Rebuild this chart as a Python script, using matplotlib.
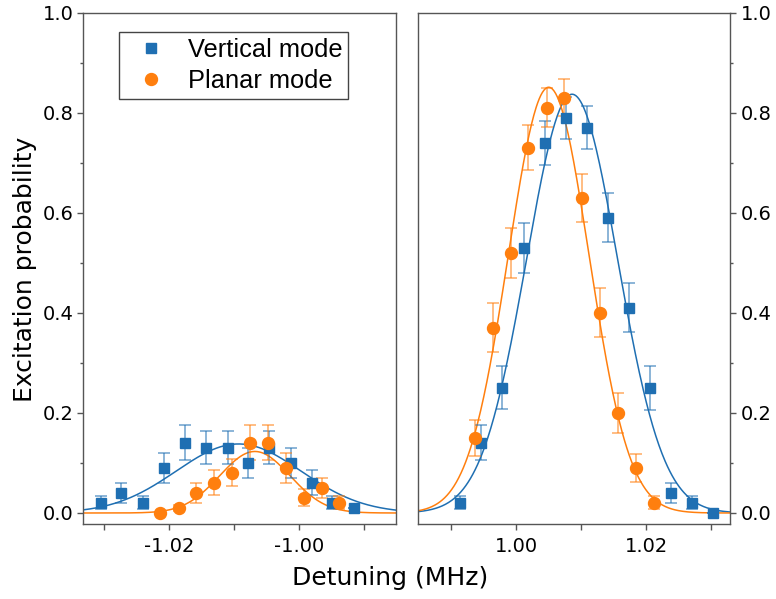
import numpy as np
import matplotlib
matplotlib.use("Agg")
import matplotlib.pyplot as plt
from matplotlib.ticker import FixedLocator, FormatStrFormatter

plt.rcParams['axes.unicode_minus'] = False
plt.rcParams['font.family'] = 'DejaVu Sans'

BLUE = '#1f6fb2'
ORANGE = '#ff7f0e'
GREY = '#555555'

# --- left panel (red sideband, around -1 MHz)
vl_x = [-1.0305, -1.0273, -1.0240, -1.0208, -1.0175, -1.0143, -1.0110,
        -1.0078, -1.0046, -1.0013, -0.9980, -0.9949, -0.9916]
vl_y = [0.02, 0.04, 0.02, 0.09, 0.14, 0.13, 0.13, 0.10, 0.13, 0.10, 0.06, 0.02, 0.01]
vl_e = [0.013, 0.02, 0.013, 0.03, 0.035, 0.033, 0.033, 0.03, 0.033, 0.03, 0.025, 0.013, 0.0]

pl_x = [-1.0213, -1.0185, -1.0158, -1.0131, -1.0103, -1.0075, -1.0048,
        -1.0020, -0.9992, -0.9965, -0.9938]
pl_y = [0.0, 0.01, 0.04, 0.06, 0.08, 0.14, 0.14, 0.09, 0.03, 0.05, 0.02]
pl_e = [0.0, 0.006, 0.02, 0.025, 0.027, 0.035, 0.035, 0.03, 0.017, 0.02, 0.013]

# --- right panel (blue sideband, around +1 MHz)
vr_x = [0.99138, 0.99462, 0.99789, 1.00118, 1.00441, 1.00764, 1.01092,
        1.01420, 1.01738, 1.02062, 1.02385, 1.02712, 1.03035]
vr_y = [0.02, 0.14, 0.25, 0.53, 0.74, 0.79, 0.77, 0.59, 0.41, 0.25, 0.04, 0.02, 0.0]
vr_e = [0.013, 0.035, 0.043, 0.05, 0.044, 0.042, 0.043, 0.049, 0.049, 0.044, 0.02, 0.013, 0.0]

pr_x = [0.99374, 0.99646, 0.99918, 1.00189, 1.00472, 1.00738, 1.01015,
        1.01292, 1.01569, 1.01842, 1.02118]
pr_y = [0.15, 0.37, 0.52, 0.73, 0.81, 0.83, 0.63, 0.40, 0.20, 0.09, 0.02]
pr_e = [0.036, 0.049, 0.05, 0.045, 0.039, 0.037, 0.048, 0.049, 0.04, 0.028, 0.013]

# gaussian fit parameters (amplitude, centre, sigma)
fit_vl = (0.138, -1.0093, 0.0096)
fit_pl = (0.123, -1.0068, 0.0054)
fit_vr = (0.837, 1.0086, 0.0070)
fit_pr = (0.851, 1.0050, 0.0062)


def gauss(x, a, x0, s):
    return a*np.exp(-(x - x0)**2/(2*s*s))


fig = plt.figure(figsize=(7.76, 5.99), dpi=100)
axl = fig.add_axes([0.1070, 0.1252, 0.4034, 0.8536])
axr = fig.add_axes([0.5387, 0.1252, 0.4021, 0.8536])


def draw(ax, xlim, vx, vy, ve, px, py, pe, fv, fp):
    xx = np.linspace(xlim[0], xlim[1], 400)
    ax.plot(xx, gauss(xx, *fv), color=BLUE, lw=1.1, zorder=2)
    ax.plot(xx, gauss(xx, *fp), color=ORANGE, lw=1.1, zorder=2)
    ax.errorbar(vx, vy, yerr=ve, fmt='none', ecolor=BLUE, alpha=0.6,
                elinewidth=1.2, capsize=4, capthick=1.2, zorder=3)
    ax.errorbar(px, py, yerr=pe, fmt='none', ecolor=ORANGE, alpha=0.6,
                elinewidth=1.2, capsize=4, capthick=1.2, zorder=3)
    hv, = ax.plot(vx, vy, 's', color=BLUE, ms=7.4, mec=BLUE, zorder=4,
                  label='Vertical mode')
    hp, = ax.plot(px, py, 'o', color=ORANGE, ms=8.6, mec=ORANGE, zorder=5,
                  label='Planar mode')
    ax.set_xlim(*xlim)
    ax.set_ylim(-0.022, 1.0)
    ax.yaxis.set_major_locator(FixedLocator([0.0, 0.2, 0.4, 0.6, 0.8, 1.0]))
    ax.yaxis.set_minor_locator(FixedLocator([0.1, 0.3, 0.5, 0.7, 0.9]))
    ax.yaxis.set_major_formatter(FormatStrFormatter('%.1f'))
    ax.xaxis.set_major_formatter(FormatStrFormatter('%.2f'))
    for sp in ax.spines.values():
        sp.set_color(GREY)
        sp.set_linewidth(1.0)
    ax.tick_params(which='both', colors=GREY, labelcolor='black', labelsize=14)
    ax.tick_params(axis='x', which='both', length=4.5, width=1, pad=5)
    ax.tick_params(axis='y', which='major', length=4, width=1, pad=3)
    ax.tick_params(axis='y', which='minor', length=2.5, width=1)
    return hv, hp


hv, hp = draw(axl, (-1.0332, -0.9851), vl_x, vl_y, vl_e, pl_x, pl_y, pl_e, fit_vl, fit_pl)
axl.xaxis.set_major_locator(FixedLocator([-1.02, -1.00]))
axl.xaxis.set_minor_locator(FixedLocator([-1.03, -1.01, -0.99]))

draw(axr, (0.9849, 1.0329), vr_x, vr_y, vr_e, pr_x, pr_y, pr_e, fit_vr, fit_pr)
axr.xaxis.set_major_locator(FixedLocator([1.00, 1.02]))
axr.xaxis.set_minor_locator(FixedLocator([0.99, 1.01, 1.03]))
axr.yaxis.tick_right()
axr.tick_params(axis='y', which='major', pad=4)

leg = axl.legend(handles=[hv, hp], loc='upper left', bbox_to_anchor=(0.115, 0.962),
                 borderaxespad=0, fancybox=False, framealpha=1, edgecolor='#444444',
                 prop={'family': 'Liberation Sans', 'size': 18.3},
                 borderpad=0.22, labelspacing=0.29, handlelength=2.08,
                 handletextpad=0.42, numpoints=1)
leg.get_frame().set_linewidth(1.0)

fig.text(0.032, 0.55, 'Excitation probability', rotation=90, fontsize=18,
         ha='center', va='center')
fig.text(0.503, 0.035, 'Detuning (MHz)', fontsize=18, ha='center', va='center')

fig.savefig('out.png', dpi=100)
